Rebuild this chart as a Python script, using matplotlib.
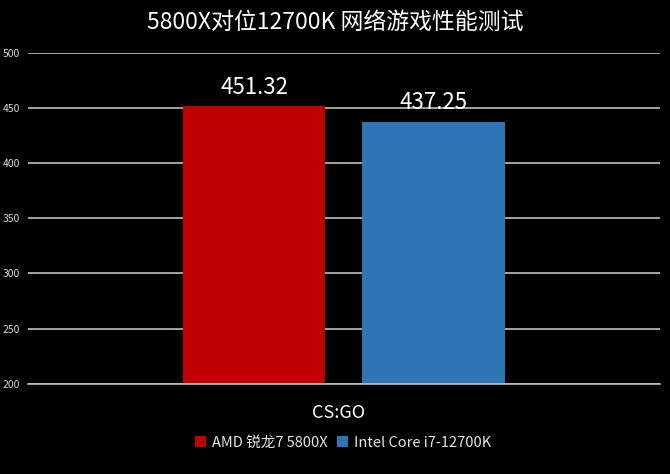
import matplotlib
matplotlib.use("Agg")
import matplotlib.pyplot as plt
from matplotlib.patches import Patch

plt.rcParams['font.family'] = ['Noto Sans CJK SC', 'DejaVu Sans']

# data
title = "5800X对位12700K 网络游戏性能测试"
category = "CS:GO"
cpus = ["AMD 锐龙7 5800X", "Intel Core i7-12700K"]
scores = [451.32, 437.25]
colors = ["#C00000", "#2E75B6"]
yticks = [200, 250, 300, 350, 400, 450, 500]

fig = plt.figure(figsize=(6.7, 4.74), dpi=100, facecolor="black")
ax = fig.add_axes([0.042, 0.19, 0.943, 0.699], facecolor="black")

xpos = [-0.285, 0.283]
for x, s, c in zip(xpos, scores, colors):
    ax.bar(x, s - 200, bottom=200, width=0.45, color=c, zorder=3)
    ax.text(x, s + 7, f"{s:.2f}", ha="center", va="bottom", color="white", fontsize=16)

ax.set_xlim(-1, 1)
ax.set_ylim(200, 500)
ax.set_yticks(yticks)
ax.set_yticklabels([str(t) for t in yticks], color="#D9D9D9", fontsize=7.5)
ax.set_xticks([])
ax.grid(axis="y", color="#BFBFBF", linewidth=1.2, zorder=0)
ax.axhline(200, color="#BFBFBF", linewidth=1.2, zorder=4, clip_on=False)
ax.tick_params(axis="y", length=0, pad=6)
for sp in ax.spines.values():
    sp.set_visible(False)

fig.text(0.5, 0.952, title, ha="center", va="center", color="white", fontsize=16.5)
fig.text(0.505, 0.128, category, ha="center", va="center", color="white", fontsize=13)

handles = [Patch(facecolor=c, label=l) for c, l in zip(colors, cpus)]
leg = fig.legend(handles=handles, loc="center", bbox_to_anchor=(0.512, 0.066), ncol=2,
                 frameon=False, fontsize=10.5, handlelength=0.8, handleheight=0.8,
                 handletextpad=0.4, columnspacing=0.6)
for t in leg.get_texts():
    t.set_color("#E6E6E6")

fig.savefig("out.png", dpi=100, facecolor="black")
